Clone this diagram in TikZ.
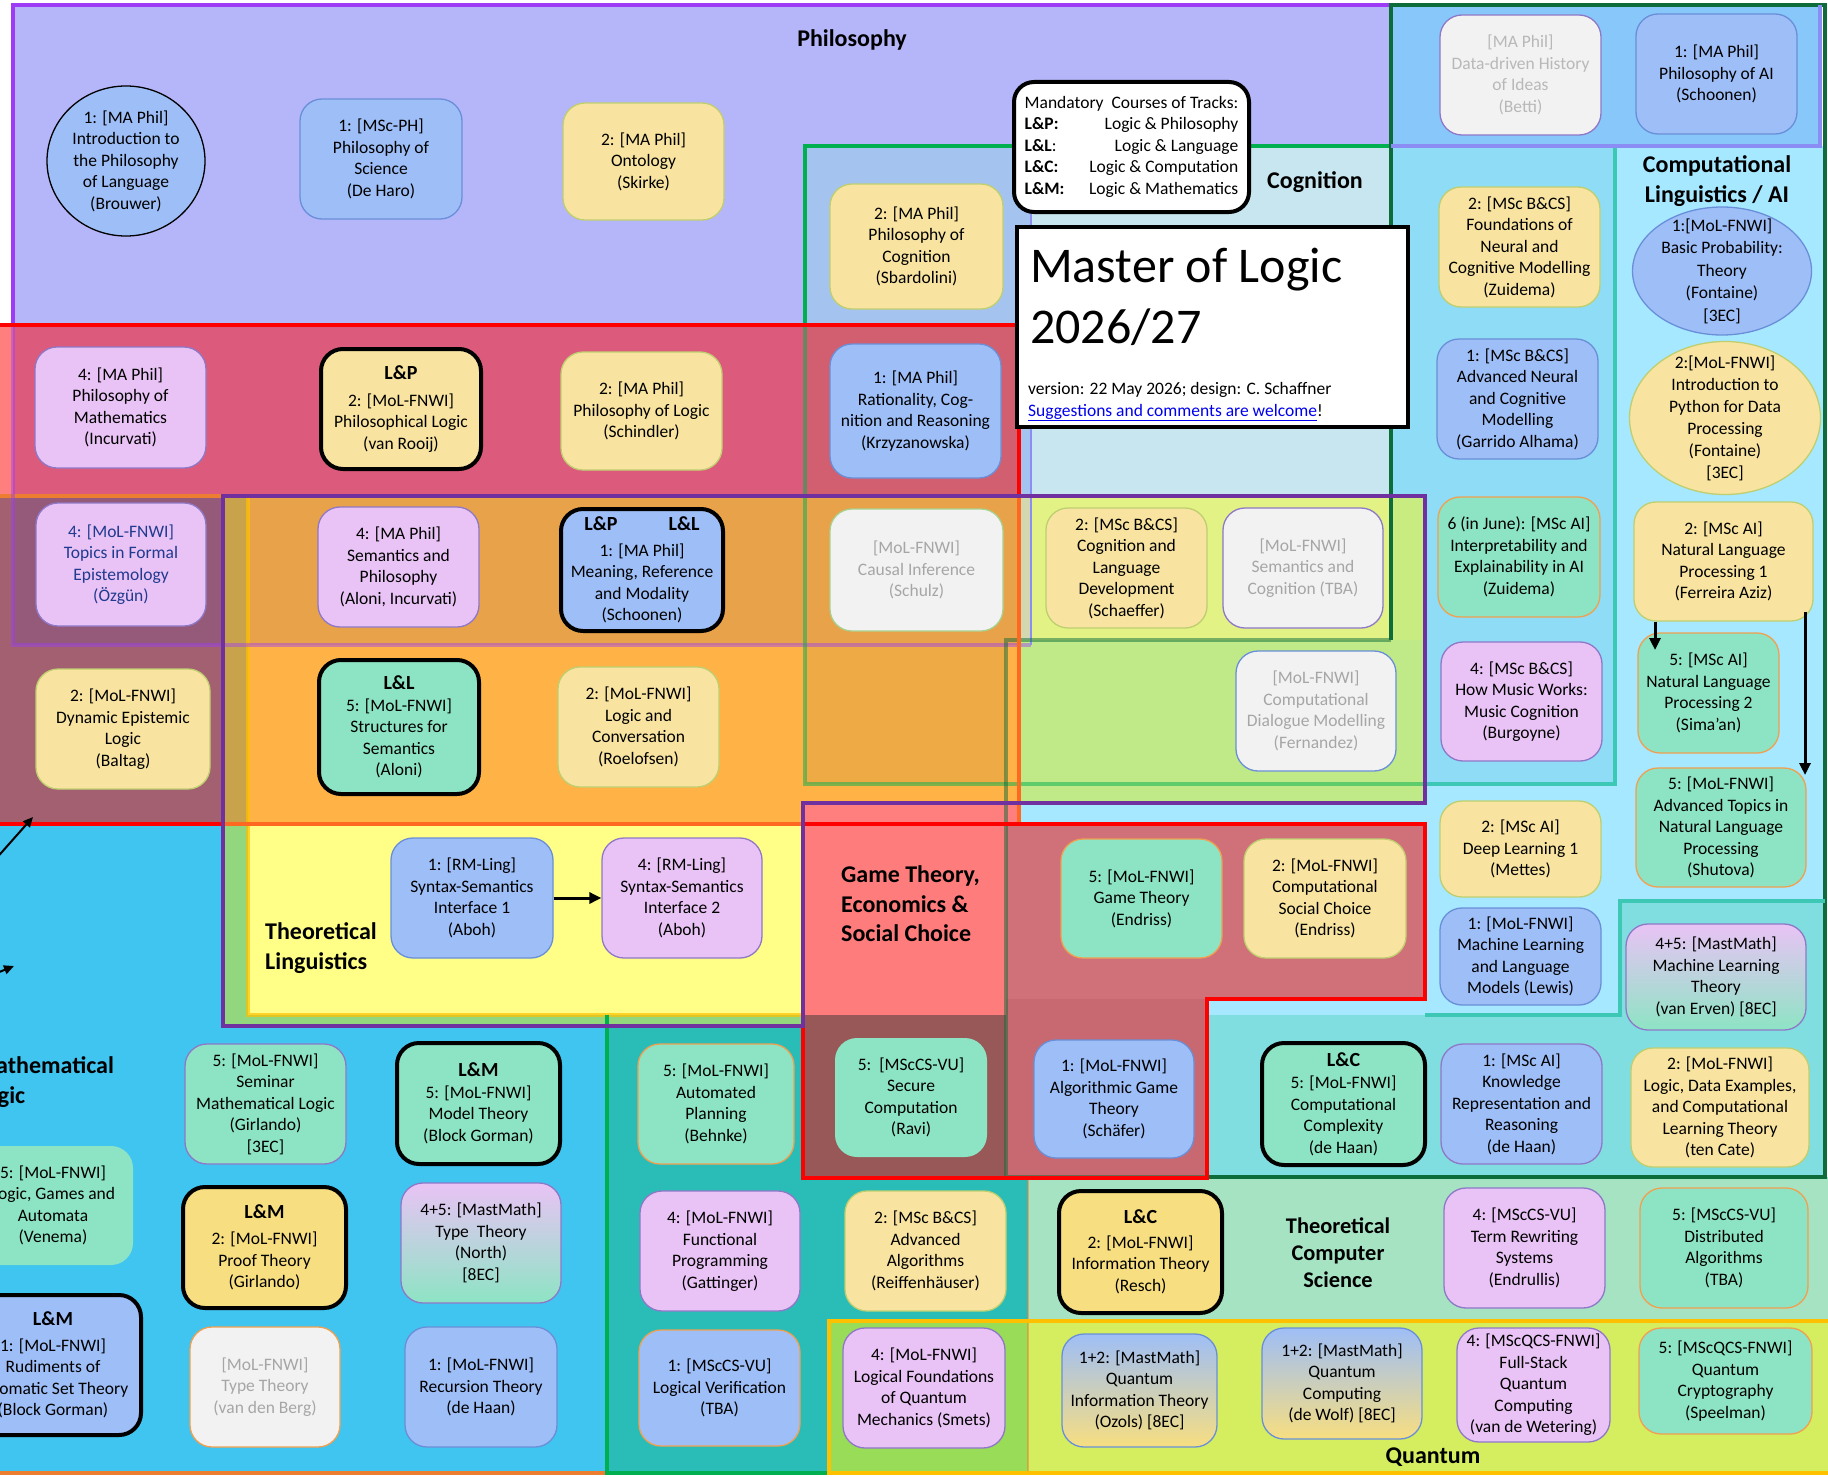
\documentclass[tikz,border=0pt]{standalone}
\usepackage{fontspec}
\setmainfont{Carlito}
\usetikzlibrary{shapes.geometric,arrows.meta}
% region fills
\definecolor{cMath}{HTML}{40C4F0}
\definecolor{cPhil}{HTML}{B5B5F9}
\definecolor{cPhilCL}{HTML}{87C7FA}
\definecolor{cPhilCog}{HTML}{A4C4EF}
\definecolor{cCog}{HTML}{C8E6EF}
\definecolor{cCL}{HTML}{A5E8FF}
\definecolor{cCogCL}{HTML}{8EDCF5}
\definecolor{cRed}{HTML}{FF7F7F}
\definecolor{cRedPhil}{HTML}{DC5A7C}
\definecolor{cRedPhilCog}{HTML}{D25F70}
\definecolor{cRedMath}{HTML}{A26070}
\definecolor{cRedMathPhil}{HTML}{955A7A}
\definecolor{cOchre}{HTML}{C9A34B}
\definecolor{cOrangeDark}{HTML}{E8A24A}
\definecolor{cOrange}{HTML}{FFB347}
\definecolor{cOrangeCog}{HTML}{EDAA45}
\definecolor{cPhilCogLang}{HTML}{D4D8B0}
\definecolor{cCogLang}{HTML}{E2F285}
\definecolor{cLangCLCog}{HTML}{C8EC80}
\definecolor{cLangCL}{HTML}{C0EA88}
\definecolor{cLangMath}{HTML}{92D77E}
\definecolor{cTL}{HTML}{FFFF88}
\definecolor{cGT}{HTML}{FF7C7C}
\definecolor{cGTCL}{HTML}{D07078}
\definecolor{cGTmath}{HTML}{985858}
\definecolor{cGTCLTCS}{HTML}{C86870}
\definecolor{cCLTCS}{HTML}{80DDE0}
\definecolor{cTCS}{HTML}{A5E3C3}
\definecolor{cTeal}{HTML}{2ABDB8}
\definecolor{cQteal}{HTML}{98DC58}
\definecolor{cQ}{HTML}{D4EE60}
% region borders
\definecolor{cPhilBd}{HTML}{9D3BF7}
\definecolor{cPhilBdB}{HTML}{8C8CF5}
\definecolor{cCogBd}{HTML}{00B050}
\definecolor{cTealBd}{HTML}{3CC8B4}
\definecolor{cCLBd}{HTML}{0E6B3A}
\definecolor{cLangBd}{HTML}{7030A0}
\definecolor{cRedOr}{HTML}{FF6820}
\definecolor{cMathBd}{HTML}{ED7D31}
\definecolor{cQBd}{HTML}{FFC000}
% boxes
\definecolor{cBoxBlue}{HTML}{9EBEF7}
\definecolor{cBlueBd}{HTML}{6A8FD8}
\definecolor{cBoxYel}{HTML}{F8E4A0}
\definecolor{cBoxYelB}{HTML}{F7DE80}
\definecolor{cYelBd}{HTML}{BFCF70}
\definecolor{cBoxPink}{HTML}{E9C3F5}
\definecolor{cPinkBd}{HTML}{8F78C8}
\definecolor{cBoxMint}{HTML}{8DE4C4}
\definecolor{cMintBd}{HTML}{F0A050}
\definecolor{cBoxGrey}{HTML}{F2F2F2}
\definecolor{cGreyTxt}{HTML}{A6A6A6}
\definecolor{cGreenBd}{HTML}{A9D18E}
\definecolor{cNavy}{HTML}{203A8F}
\definecolor{cLink}{HTML}{0000EE}
\newcommand\crs[7]{\node[#2, minimum width={(#5)-(#3)}, minimum height={(#6)-(#4)}] (#1) at ({((#3)+(#5))/2},{((#4)+(#6))/2}) {#7};}
\newcommand\hd[1]{{\fontsize{20}{22}\selectfont\bfseries #1}}
\begin{document}
\begin{tikzpicture}[x=1pt,y=-1pt,font=\fontsize{17.5}{21.5}\selectfont,
  crsbox/.style={rectangle,rounded corners=22pt,align=center,inner sep=1pt,line width=1.3pt,text=black},
  bblue/.style={crsbox,fill=cBoxBlue,draw=cBlueBd},
  byel/.style={crsbox,fill=cBoxYel,draw=cYelBd},
  byeltwo/.style={crsbox,fill=cBoxYelB,draw=cYelBd},
  bpink/.style={crsbox,fill=cBoxPink,draw=cPinkBd},
  bmint/.style={crsbox,fill=cBoxMint,draw=cMintBd},
  bgrey/.style={crsbox,fill=cBoxGrey,text=cGreyTxt},
  gradpm/.style={crsbox,top color=cBoxPink,bottom color=cBoxMint,draw=cPinkBd},
  gradby/.style={crsbox,top color=cBoxBlue,bottom color=cBoxYelB,draw=cBlueBd},
  mand/.style={line width=4pt,draw=black},
  ell/.style={ellipse,line width=1.3pt,inner sep=0},
  lab/.style={font=\fontsize{24}{29.5}\selectfont\bfseries,inner sep=0},
  arr/.style={-{Triangle[length=12pt,width=11pt]},line width=3pt,black},
  arrthin/.style={-{Triangle[length=10pt,width=9pt]},line width=2pt,black},
  rb/.style={line width=3.5pt}]
\useasboundingbox (0,0) rectangle (1828,1477);
\clip (0,0) rectangle (1828,1477);
% ---------- region fills ----------
\fill[white] (0,0) rectangle (1828,1477);
\fill[cMath] (-5,496) rectangle (1028,1475);
\fill[cPhil] (13,5) rectangle (1820,146);
\fill[cPhil] (13,146) rectangle (1031,645);
\fill[cPhilCL] (1391,5) rectangle (1822,146);
\fill[cCL] (1391,146) rectangle (1825,1177);
\fill[cCL] (1006,640) rectangle (1391,1177);
\fill[cPhilCog] (805,146) rectangle (1031,645);
\fill[cCog] (1031,146) rectangle (1391,640);
\fill[cCogCL] (1391,146) rectangle (1615,784);
\fill[cRed] (-5,325) rectangle (13,496);
\fill[cRedPhil] (13,325) rectangle (805,496);
\fill[cRedPhilCog] (805,325) rectangle (1019,496);
\fill[cRedMath] (-5,496) rectangle (223,824);
\fill[cRedMathPhil] (13,496) rectangle (223,645);
\fill[cOchre] (223,496) rectangle (248,824);
\fill[cOrangeDark] (248,496) rectangle (1019,645);
\fill[cOrange] (248,645) rectangle (1019,824);
\fill[cOrangeCog] (805,645) rectangle (1006,784);
\fill[cRed] (803,803) rectangle (1019,824);
\fill[cPhilCogLang] (1019,496) rectangle (1031,640);
\fill[cCogLang] (1031,496) rectangle (1391,640);
\fill[cLangCLCog] (1391,496) rectangle (1425,640);
\fill[cLangCL] (1019,640) rectangle (1425,803);
\fill[cLangMath] (223,824) rectangle (248,1026);
\fill[cLangMath] (248,1015) rectangle (803,1026);
\fill[cTL] (248,824) rectangle (803,1015);
\fill[cTeal] (607,1026) rectangle (1028,1475);
\fill[cCLTCS] (1207,1015) rectangle (1825,1177);
\fill[cCLTCS] (1620,901) rectangle (1825,1015);
\fill[cTCS] (1028,1177) rectangle (1828,1475);
\fill[cQteal] (829,1321) rectangle (1028,1475);
\fill[cQ] (1028,1321) rectangle (1828,1475);
\fill[cGT] (803,824) rectangle (1006,1015);
\fill[cGTmath] (803,1015) rectangle (1006,1178);
\fill[cGTCL] (1006,824) rectangle (1425,999);
\fill[cGTCLTCS] (1006,999) rectangle (1207,1178);
\fill[white] (0,1475.5) rectangle (1828,1477);
% ---------- region borders ----------
\draw[rb,cMathBd] (-10,496) -- (248,496);
\draw[rb,cMathBd] (-10,1473) -- (607,1473);
\draw[line width=2pt,cMathBd,opacity=.5] (1028,1178) -- (1028,1473);
\draw[rb,cQBd,opacity=.7] (248,496) -- (248,1015) -- (803,1015);
\draw[rb,cPhilBd] (13,325) -- (13,5) -- (1391,5);
\draw[rb,cPhilBd,opacity=.45] (13,325) -- (13,645) -- (1031,645);
\draw[line width=2pt,cPhilBdB] (1031,146) -- (1031,645);
\draw[rb,cCogBd] (1391,146) -- (805,146) -- (805,325);
\draw[rb,cCogBd,opacity=.5] (805,325) -- (805,784) -- (1425,784);
\draw[rb,cTealBd] (1391,146) -- (1615,146) -- (1615,784) -- (1425,784);
\draw[rb,cCLBd] (1391,640) -- (1391,5) -- (1825,5) -- (1825,1177) -- (1207,1177);
\draw[rb,cCLBd,opacity=.5] (1391,640) -- (1006,640) -- (1006,1177) -- (1207,1177);
\draw[rb,cPhilBdB] (1391,146) -- (1820,146) -- (1820,5);
\draw[rb,red] (-10,325) -- (1019,325) -- (1019,496);
\draw[rb,cRedOr] (1019,496) -- (1019,824) -- (223,824);
\draw[rb,red] (223,824) -- (-10,824);
\draw[line width=4pt,red] (803,824) -- (1425,824) -- (1425,999) -- (1207,999) -- (1207,1178) -- (803,1178) -- cycle;
\draw[rb,cCogBd] (607,1015) -- (607,1473) -- (829,1473);
\draw[rb,cTealBd] (1425,1015) -- (1620,1015) -- (1620,901) -- (1825,901);
\draw[line width=4pt,cQBd] (829,1321) rectangle (1840,1473);
\draw[line width=4pt,cLangBd] (223,496) -- (1425,496) -- (1425,803) -- (803,803) -- (803,1026) -- (223,1026) -- cycle;
% ---------- region labels ----------
\node[lab] (labPhil) at (852,40) {Philosophy};
\node[lab] (labCog) at (1315,182) {Cognition};
\node[lab,align=center] (labCL) at (1717,181) {Computational\\Linguistics / AI};
\node[lab,align=left,anchor=west] (labTL) at (265,948) {Theoretical\\Linguistics};
\node[lab,align=left,anchor=west] (labGT) at (841,904) {Game Theory,\\Economics \&\\Social Choice};
\node[lab,align=left,anchor=west] (labML) at (-25,1082) {Mathematical\\Logic};
\node[lab,align=center,font=\fontsize{22.4}{27}\selectfont\bfseries] (labTCS) at (1338,1253) {Theoretical\\Computer\\Science};
\node[lab] (labQ) at (1433,1457) {Quantum};
% ---------- legend and title ----------
\node[rectangle,rounded corners=20pt,draw=black,line width=4pt,fill=white,inner sep=0,minimum width=235,minimum height=130] (leg) at (1131.5,147)
 {\begin{tabular}{@{}l@{}r@{}}\multicolumn{2}{@{}l@{}}{Mandatory\ \ Courses of Tracks:}\\
 \textbf{L\&P:} & Logic \& Philosophy\\
 \textbf{L\&L}: & Logic \& Language\\
 \textbf{L\&C:} & Logic \& Computation\\
 \textbf{L\&M:} & Logic \& Mathematics\end{tabular}};
\node[rectangle,draw=black,line width=4pt,fill=white,inner sep=0,minimum width=391,minimum height=200] (title) at (1212.5,327) {};
\node[anchor=base west,inner sep=0,font=\fontsize{50}{61}\selectfont] (t1) at (1030,282) {Master of Logic};
\node[anchor=base west,inner sep=0,font=\fontsize{50}{61}\selectfont] (t2) at (1030,343) {2026/27};
\node[anchor=base west,inner sep=0] (t3) at (1028,394) {version: 22 May 2026; design: C. Schaffner};
\node[anchor=base west,inner sep=0] (t4) at (1028,416) {\textcolor{cLink}{\underline{Suggestions and comments are welcome}}!};
% ---------- philosophy ----------
\node[ell,fill=cBoxBlue,draw=black,minimum width=158,minimum height=150] (P1) at (126,161) {};
\node[align=center,inner sep=0] (P1t) at (P1) {1: [MA Phil]\\Introduction to\\the Philosophy\\of Language\\(Brouwer)};
\crs{P2}{bblue}{300}{99}{462}{219}{1: [MSc-PH]\\Philosophy of\\Science\\(De Haro)}
\crs{P3}{byel}{563}{103}{724}{220}{2: [MA Phil]\\Ontology\\(Skirke)}
\crs{P4}{byel}{830}{184}{1003}{309}{2: [MA Phil]\\Philosophy of\\Cognition\\(Sbardolini)}
\crs{P5}{bgrey,draw=cPinkBd,text=cGreyTxt!80!white}{1440}{15}{1601}{135}{{[MA Phil]}\\Data-driven History\\of Ideas\\(Betti)}
\crs{P6}{bblue}{1636}{14}{1797}{134}{1: [MA Phil]\\Philosophy of AI\\(Schoonen)}
\crs{R1}{bpink}{35}{347}{206}{468}{4: [MA Phil]\\Philosophy of\\Mathematics\\(Incurvati)}
\crs{R2}{byel,mand}{321}{349}{481}{469}{\hd{L\&P}\\[5pt]2: [MoL-FNWI]\\Philosophical Logic\\(van Rooij)}
\crs{R3}{byel}{561}{352}{722}{470}{2: [MA Phil]\\Philosophy of Logic\\(Schindler)}
\crs{R4}{bblue}{830}{344}{1001}{478}{1: [MA Phil]\\Rationality, Cog-\\nition and Reasoning\\(Krzyzanowska)}
% ---------- language band ----------
\crs{L1}{bpink,text=cNavy}{36}{503}{206}{626}{4: [MoL-FNWI]\\Topics in Formal\\Epistemology\\(Özgün)}
\crs{L2}{bpink}{318}{507}{479}{627}{4: [MA Phil]\\Semantics and\\Philosophy\\(Aloni, Incurvati)}
\crs{L3}{bblue,mand}{561}{509}{723}{631}{\hd{L\&P}\hspace{51pt}\hd{L\&L}\\[4pt]1: [MA Phil]\\Meaning, Reference\\and Modality\\(Schoonen)}
\crs{L4}{bgrey,draw=cGreenBd}{830}{509}{1003}{631}{{[MoL-FNWI]}\\Causal Inference\\(Schulz)}
\crs{L5}{byel}{1046}{508}{1207}{628}{2: [MSc B\&CS]\\Cognition and\\Language\\Development\\(Schaeffer)}
\crs{L6}{bgrey,draw=cPinkBd}{1223}{508}{1383}{628}{{[MoL-FNWI]}\\Semantics and\\Cognition (TBA)}
\crs{O1}{byel}{36}{669}{210}{789}{2: [MoL-FNWI]\\Dynamic Epistemic\\Logic\\(Baltag)}
\crs{O2}{bmint,mand}{319}{660}{479}{794}{\hd{L\&L}\\5: [MoL-FNWI]\\Structures for\\Semantics\\(Aloni)}
\crs{O3}{byel}{558}{667}{719}{787}{2: [MoL-FNWI]\\Logic and\\Conversation\\(Roelofsen)}
\crs{O4}{bgrey,draw=cBlueBd}{1236}{651}{1396}{771}{{[MoL-FNWI]}\\Computational\\Dialogue Modelling\\(Fernandez)}
% ---------- computational linguistics / AI ----------
\crs{C1}{byel}{1439}{187}{1600}{307}{2: [MSc B\&CS]\\Foundations of\\Neural and\\Cognitive Modelling\\(Zuidema)}
\crs{C2}{bblue}{1437}{339}{1598}{459}{1: [MSc B\&CS]\\Advanced Neural\\and Cognitive\\Modelling\\(Garrido Alhama)}
\crs{C3}{bmint}{1438}{497}{1600}{617}{6 (in June): [MSc AI]\\Interpretability and\\Explainability in AI\\(Zuidema)}
\crs{C4}{bpink}{1441}{642}{1602}{761}{4: [MSc B\&CS]\\How Music Works:\\Music Cognition\\(Burgoyne)}
\crs{C5}{byel}{1440}{801}{1601}{897}{2: [MSc AI]\\Deep Learning 1\\(Mettes)}
\crs{C6}{bblue}{1440}{908}{1601}{1005}{1: [MoL-FNWI]\\Machine Learning\\and Language\\Models (Lewis)}
\node[ell,fill=cBoxBlue,draw=cBlueBd,minimum width=179,minimum height=128] (C7) at (1722,271) {};
\node[align=center,inner sep=0,font=\fontsize{17.5}{22.5}\selectfont] (C7t) at (C7) {1:[MoL-FNWI]\\Basic Probability:\\Theory\\(Fontaine)\\{[3EC]}};
\node[ell,fill=cBoxYel,draw=cYelBd,minimum width=191,minimum height=153] (C8) at (1725,418) {};
\node[align=center,inner sep=0,font=\fontsize{17.5}{22}\selectfont] (C8t) at (C8) {2:[MoL-FNWI]\\Introduction to\\Python for Data\\Processing\\(Fontaine)\\{[3EC]}};
\crs{C9}{byel}{1634}{502}{1813}{621}{2: [MSc AI]\\Natural Language\\Processing 1\\(Ferreira Aziz)}
\crs{C10}{bmint}{1638}{633}{1779}{753}{5: [MSc AI]\\Natural Language\\Processing 2\\(Sima’an)}
\crs{C11}{bmint}{1636}{768}{1806}{887}{5: [MoL-FNWI]\\Advanced Topics in\\Natural Language\\Processing\\(Shutova)}
\crs{C12}{gradpm}{1626}{924}{1806}{1030}{4+5: [MastMath]\\Machine Learning\\Theory\\(van Erven) [8EC]}
% ---------- theoretical linguistics / game theory ----------
\crs{T1}{bblue}{391}{838}{553}{958}{1: [RM-Ling]\\Syntax-Semantics\\Interface 1\\(Aboh)}
\crs{T2}{bpink}{602}{838}{762}{958}{4: [RM-Ling]\\Syntax-Semantics\\Interface 2\\(Aboh)}
\crs{G1}{bmint}{1061}{839}{1222}{958}{5: [MoL-FNWI]\\Game Theory\\(Endriss)}
\crs{G2}{byel}{1244}{839}{1406}{958}{2: [MoL-FNWI]\\Computational\\Social Choice\\(Endriss)}
% ---------- mathematical logic ----------
\crs{M1}{bmint,draw=cPinkBd}{185}{1044}{346}{1164}{5: [MoL-FNWI]\\Seminar\\Mathematical Logic\\(Girlando)\\{[3EC]}}
\crs{M2}{bmint,mand}{397}{1043}{560}{1164}{\hd{L\&M}\\5: [MoL-FNWI]\\Model Theory\\(Block Gorman)}
\crs{M3}{bmint,draw=none}{-27}{1146}{133}{1265}{5: [MoL-FNWI]\\Logic, Games and\\Automata\\(Venema)}
\crs{M4}{byeltwo,mand}{183}{1187}{346}{1308}{\hd{L\&M}\\[5pt]2: [MoL-FNWI]\\Proof Theory\\(Girlando)}
\crs{M5}{gradpm}{401}{1183}{561}{1303}{4+5: [MastMath]\\Type\ \ Theory\\(North)\\{[8EC]}}
\crs{M6}{bblue,mand}{-35}{1295}{141}{1435}{\hd{L\&M}\\[4pt]1: [MoL-FNWI]\\Rudiments of\\Axiomatic Set Theory\\(Block Gorman)}
\crs{M7}{bgrey,draw=cMintBd}{190}{1327}{340}{1447}{{[MoL-FNWI]}\\Type Theory\\(van den Berg)}
\crs{M8}{bblue}{405}{1327}{557}{1447}{1: [MoL-FNWI]\\Recursion Theory\\(de Haan)}
% ---------- theoretical computer science / quantum ----------
\crs{S1}{bmint}{638}{1044}{794}{1164}{5: [MoL-FNWI]\\Automated\\Planning\\(Behnke)}
\crs{S2}{bmint,draw=none}{835}{1038}{987}{1157}{5:\ \ [MScCS-VU]\\Secure\\Computation\\(Ravi)}
\crs{S3}{bblue}{1034}{1040}{1194}{1158}{1: [MoL-FNWI]\\Algorithmic Game\\Theory\\(Schäfer)}
\crs{S4}{bmint,mand}{1262}{1043}{1425}{1165}{\hd{L\&C}\\[1pt]5: [MoL-FNWI]\\Computational\\Complexity\\(de Haan)}
\crs{S5}{bblue,draw=cPinkBd}{1441}{1044}{1602}{1164}{1: [MSc AI]\\Knowledge\\Representation and\\Reasoning\\(de Haan)}
\crs{S6}{byel}{1631}{1048}{1809}{1167}{2: [MoL-FNWI]\\Logic, Data Examples,\\and Computational\\Learning Theory\\(ten Cate)}
\crs{S7}{bpink}{640}{1191}{800}{1311}{4: [MoL-FNWI]\\Functional\\Programming\\(Gattinger)}
\crs{S8}{byel}{845}{1191}{1006}{1311}{2: [MSc B\&CS]\\Advanced\\Algorithms\\(Reiffenhäuser)}
\crs{S9}{byeltwo,mand}{1059}{1191}{1222}{1313}{\hd{L\&C}\\[3pt]2: [MoL-FNWI]\\Information Theory\\(Resch)}
\crs{S10}{bpink}{1444}{1188}{1605}{1308}{4: [MScCS-VU]\\Term Rewriting\\Systems\\(Endrullis)}
\crs{S11}{bmint}{1640}{1188}{1808}{1308}{5: [MScCS-VU]\\Distributed\\Algorithms\\(TBA)}
\crs{S12}{bblue,draw=cMintBd}{639}{1330}{800}{1446}{1: [MScCS-VU]\\Logical Verification\\(TBA)}
\crs{S13}{bpink}{843}{1328}{1005}{1448}{4: [MoL-FNWI]\\Logical Foundations\\of Quantum\\Mechanics (Smets)}
\crs{S14}{gradby}{1062}{1334}{1217}{1447}{1+2: [MastMath]\\Quantum\\Information Theory\\(Ozols) [8EC]}
\crs{S15}{gradby}{1262}{1328}{1422}{1439}{1+2: [MastMath]\\Quantum\\Computing\\(de Wolf) [8EC]}
\crs{S16}{bpink}{1457}{1328}{1610}{1442}{4: [MScQCS-FNWI]\\Full-Stack\\Quantum\\Computing\\(van de Wetering)}
\crs{S17}{bmint}{1639}{1328}{1812}{1434}{5: [MScQCS-FNWI]\\Quantum\\Cryptography\\(Speelman)}
% ---------- arrows ----------
\draw[arr] (T1.east) -- (T2.west);
\coordinate (nlpA) at (1655,650);
\draw[arr] (C9.south -| nlpA) -- (nlpA);
\coordinate (nlpB) at (1805,775);
\draw[arr] ([yshift=10pt]C9.south -| nlpB) -- (nlpB);
\coordinate (lA0) at (-30,888);
\coordinate (lA1) at (33,817);
\draw[arrthin] (lA0) -- (lA1);
\coordinate (lB0) at (-40,988);
\coordinate (lB1) at (14,966);
\draw[arrthin] (lB0) -- (lB1);
\end{tikzpicture}
\end{document}
